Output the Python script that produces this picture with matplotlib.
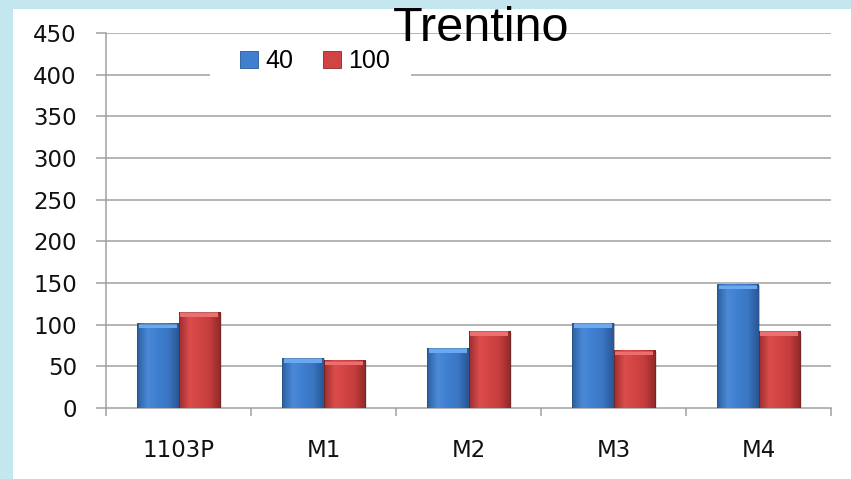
import numpy as np
import matplotlib
matplotlib.use('Agg')
import matplotlib.pyplot as plt
from matplotlib.patches import Rectangle, Patch
from matplotlib.colors import LinearSegmentedColormap

categories = ['1103P', 'M1', 'M2', 'M3', 'M4']
series_names = ['40', '100']
values_40 = [101, 60, 72, 102, 148]
values_100 = [115, 57, 92, 69, 92]
yticks = [0, 50, 100, 150, 200, 250, 300, 350, 400, 450]

blue_cmap = LinearSegmentedColormap.from_list(
    'b', ['#2c5f9e', '#4a8ad8', '#3f7fcf', '#3a76c2', '#2a5694'])
red_cmap = LinearSegmentedColormap.from_list(
    'r', ['#9c2e2e', '#dc4c4c', '#d24444', '#c43c3c', '#8e2828'])
blue_top = '#6aa8f0'
red_top = '#ec6e6e'

fig = plt.figure(figsize=(8.51, 4.79), dpi=100)
fig.patch.set_facecolor('#c4e6ee')
# white panel
fig.patches.append(Rectangle((13/851, 0), 1, 1 - 9/479, transform=fig.transFigure,
                             facecolor='white', edgecolor='none', zorder=-1))

ax = fig.add_axes([106/851, 71/479, 725/851, 375/479])
ax.set_facecolor('white')
ax.patch.set_alpha(0)

x = np.arange(len(categories))
w = 0.287
grad = np.linspace(0, 1, 64).reshape(1, -1)
px_per_unit = 375 / 450.0
bevel = 4.5 / px_per_unit

def gbar(xc, h, cmap, topc):
    left = xc - w / 2
    # shadow
    ax.add_patch(Rectangle((left + 0.012, 0), w, h - 1.5, facecolor='#000000',
                           alpha=0.12, edgecolor='none', zorder=2))
    ax.imshow(grad, cmap=cmap, extent=(left, left + w, 0, h), aspect='auto',
              zorder=3, interpolation='bicubic')
    ax.add_patch(Rectangle((left + 0.012, h - bevel), w - 0.024, bevel,
                           facecolor=topc, edgecolor='none', zorder=4))
    ax.add_patch(Rectangle((left, 0), w, h, facecolor='none',
                           edgecolor='#1e1e1e', lw=0.4, alpha=0.35, zorder=5))

for i in range(len(categories)):
    gbar(x[i] - w / 2, values_40[i], blue_cmap, blue_top)
    gbar(x[i] + w / 2, values_100[i], red_cmap, red_top)

ax.set_xlim(-0.5, len(categories) - 0.5)
ax.set_ylim(0, 450)
ax.set_yticks(yticks)
ax.set_yticklabels([str(t) for t in yticks])
ax.set_xticks(x)
ax.set_xticklabels(categories)
ax.set_xticks(np.arange(len(categories) + 1) - 0.5, minor=True)

for t in yticks[1:]:
    ax.axhline(t, color='#a0a0a0', lw=1.1, zorder=1)

for s in ['top', 'right']:
    ax.spines[s].set_visible(False)
for s in ['left', 'bottom']:
    ax.spines[s].set_color('#a0a0a0')
    ax.spines[s].set_linewidth(1.1)

ax.tick_params(axis='y', length=7, width=1.1, color='#a0a0a0', pad=14,
               labelsize=16.5, labelcolor='#111111')
ax.tick_params(axis='x', which='major', length=0, pad=22, labelsize=16.5,
               labelcolor='#111111')
ax.tick_params(axis='x', which='minor', length=6, width=1.1, color='#a0a0a0')

# white backing for legend over gridline
ax.add_patch(Rectangle(((210 - 106) / 725, 0.86), (411 - 210) / 725, 0.06,
                       transform=ax.transAxes, facecolor='white',
                       edgecolor='none', zorder=1.5))
handles = [Patch(facecolor='#3f7fcf', edgecolor='#2a5694', lw=0.6),
           Patch(facecolor='#d24444', edgecolor='#8e2828', lw=0.6)]
leg = ax.legend(handles, series_names, loc='center', ncol=2, frameon=False,
                bbox_to_anchor=((315 - 106) / 725, (408 - 61.5) / 375),
                handlelength=0.7, handleheight=0.65, handletextpad=0.3,
                columnspacing=1.2,
                prop={'family': ['Liberation Sans', 'DejaVu Sans'],
                      'size': 18})

fig.text(481 / 851, 1 - 40.7 / 479, 'Trentino', ha='center', va='baseline',
         fontsize=35, family=['Liberation Sans', 'DejaVu Sans'], zorder=10)

fig.savefig('out.png', dpi=100, facecolor=fig.get_facecolor())
